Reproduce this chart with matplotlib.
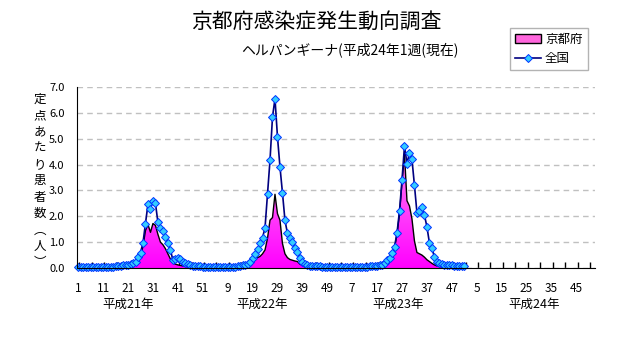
import numpy as np
import matplotlib.pyplot as plt
from matplotlib.colors import LinearSegmentedColormap
from matplotlib.patches import Patch
from matplotlib.lines import Line2D

plt.rcParams['font.family'] = ['Noto Sans CJK JP', 'DejaVu Sans']

# weekly values per sentinel, H21 week 1 .. H23 week 52
zenkoku_h21 = [0.05, 0.04, 0.04, 0.04, 0.03, 0.03, 0.03, 0.03, 0.03, 0.03, 0.04, 0.04, 0.04, 0.05, 0.05, 0.06, 0.07,
               0.08, 0.10, 0.12, 0.12, 0.14, 0.18, 0.25, 0.41, 0.59, 0.98,
               1.72, 2.47, 2.30, 2.60, 2.50, 1.76, 1.56, 1.44, 1.21, 0.98,
               0.70, 0.31, 0.35, 0.38, 0.33, 0.24, 0.18, 0.14, 0.10, 0.08,
               0.07, 0.06, 0.06, 0.05, 0.05]
zenkoku_h22 = [0.05, 0.05, 0.04, 0.04, 0.04, 0.04, 0.03, 0.03, 0.04, 0.04, 0.05, 0.05,
               0.06, 0.08, 0.10, 0.12, 0.17, 0.25, 0.37, 0.53, 0.72, 0.95,
               1.17, 1.56, 2.88, 4.17, 5.84, 6.55, 5.07, 3.91, 2.91, 1.85,
               1.34, 1.17, 1.00, 0.78, 0.60, 0.40, 0.25, 0.15, 0.10, 0.08,
               0.08, 0.07, 0.06, 0.06, 0.05, 0.05, 0.05, 0.04, 0.04, 0.04]
zenkoku_h23 = [0.04, 0.04, 0.04, 0.03, 0.03, 0.03, 0.03, 0.03, 0.04, 0.04, 0.04, 0.05, 0.05, 0.06, 0.07,
               0.08, 0.09, 0.10, 0.12, 0.18, 0.30, 0.37, 0.57, 0.82, 1.36,
               2.21, 3.40, 4.72, 4.04, 4.45, 4.20, 3.20, 2.14, 2.21, 2.34,
               2.05, 1.60, 0.98, 0.76, 0.44, 0.24, 0.18, 0.15, 0.13, 0.12,
               0.10, 0.10, 0.09, 0.08, 0.08, 0.07, 0.07]

kyoto_h21 = [0.02, 0.02, 0.01, 0.01, 0.01, 0.02, 0.01, 0.01, 0.01, 0.02, 0.02, 0.02, 0.03, 0.03, 0.03, 0.04, 0.04, 0.05,
             0.05, 0.06, 0.08, 0.10, 0.14, 0.18, 0.28, 0.42, 0.85, 1.45,
             1.68, 1.38, 1.72, 1.65, 1.30, 1.00, 0.90, 0.75, 0.55, 0.35,
             0.20, 0.15, 0.12, 0.10, 0.08, 0.06, 0.05, 0.04, 0.03, 0.03,
             0.03, 0.02, 0.02, 0.02]
kyoto_h22 = [0.02, 0.02, 0.01, 0.01, 0.01, 0.01, 0.01, 0.01, 0.02, 0.02, 0.02, 0.03, 0.04, 0.05,
             0.08, 0.12, 0.18, 0.22, 0.25, 0.30, 0.40, 0.45, 0.55, 0.70,
             1.15, 1.85, 1.95, 2.85, 2.10, 1.85, 0.95, 0.55, 0.40, 0.33,
             0.30, 0.27, 0.25, 0.15, 0.10, 0.08, 0.06, 0.05, 0.04, 0.03,
             0.03, 0.03, 0.02, 0.02, 0.02, 0.02, 0.02, 0.02]
kyoto_h23 = [0.02, 0.02, 0.01, 0.01, 0.01, 0.01, 0.01, 0.01, 0.02, 0.02, 0.02, 0.03, 0.03, 0.04, 0.04,
             0.05, 0.06, 0.08, 0.10, 0.15, 0.25, 0.35, 0.55, 0.80, 1.30,
             2.10, 3.30, 4.40, 2.60, 2.40, 1.90, 1.05, 0.60, 0.55, 0.50,
             0.42, 0.32, 0.25, 0.18, 0.12, 0.08, 0.06, 0.05, 0.04, 0.04,
             0.03, 0.03, 0.03, 0.02, 0.02, 0.02, 0.02]

week_labels = ['1', '11', '21', '31', '41', '51', '9', '19', '29', '39', '49',
               '7', '17', '27', '37', '47', '5', '15', '25', '35', '45']
year_labels = ['平成21年', '平成22年', '平成23年', '平成24年']
n_weeks = 4 * 52

zenkoku = np.array(zenkoku_h21 + zenkoku_h22 + zenkoku_h23)
kyoto = np.array(kyoto_h21 + kyoto_h22 + kyoto_h23)
x = np.arange(len(zenkoku))

fig = plt.figure(figsize=(6.32, 3.48), dpi=100)
ax = fig.add_axes([77 / 632, 1 - 268 / 348, 518 / 632, 181 / 348])

# magenta gradient area for Kyoto
fill = ax.fill_between(x, kyoto, 0, facecolor='none', edgecolor='none')
cmap = LinearSegmentedColormap.from_list('kpink', ['#ff00ff', '#ffccf0'])
grad = np.linspace(0, 1, 256).reshape(-1, 1)
im = ax.imshow(grad, cmap=cmap, aspect='auto', origin='lower',
               extent=[-0.5, n_weeks - 0.5, 0, 7], zorder=2)
im.set_clip_path(fill.get_paths()[0], transform=ax.transData)
ax.plot(x, kyoto, color='black', lw=1, zorder=3)

ax.plot(x, zenkoku, color='#000080', lw=1.2, marker='D', ms=3.8,
        mfc='#33ccff', mec='#0033ff', mew=0.7, zorder=4, clip_on=False)

ax.set_xlim(-0.5, n_weeks - 0.5)
ax.set_ylim(0, 7)
ax.set_yticks(np.arange(0, 8, 1))
ax.set_yticklabels(['%.1f' % v for v in np.arange(0, 8, 1)], fontsize=8)
ax.tick_params(axis='y', length=0, pad=9)
ax.set_xticks(np.arange(0, 201, 10))
ax.set_xticklabels(week_labels, fontsize=8.5)
ax.set_xticks(np.arange(0.5, n_weeks, 5), minor=True)
ax.tick_params(axis='x', which='major', length=0, pad=10)
ax.tick_params(axis='x', which='minor', direction='in', length=4, width=1)

ax.yaxis.grid(True, color='#c0c0c0', linestyle=(0, (4, 3)), lw=1)
ax.set_axisbelow(True)
for s in ['top', 'right']:
    ax.spines[s].set_visible(False)
for s in ['left', 'bottom']:
    ax.spines[s].set_color('black')
    ax.spines[s].set_zorder(5)

for pos, lab in zip([20, 74, 128.3, 183], year_labels):
    ax.text(pos, -36 / 181, lab, transform=ax.get_xaxis_transform(),
            ha='center', va='center', fontsize=9)

fig.text(40 / 632, 1 - 181 / 348, '\n'.join('定点あたり患者数︵人︶'),
         ha='center', va='center', fontsize=9, linespacing=1.33)

fig.text(316 / 632, 1 - 22 / 348, '京都府感染症発生動向調査', ha='center', va='center', fontsize=15)
fig.text(350 / 632, 1 - 50 / 348, 'ヘルパンギーナ(平成24年1週(現在)', ha='center', va='center', fontsize=10)

handles = [Patch(facecolor='#ff66dd', edgecolor='black', lw=1),
           Line2D([], [], color='#000080', lw=1.2, marker='D', ms=3.8,
                  mfc='#33ccff', mec='#0033ff', mew=0.7)]
leg = fig.legend(handles, ['京都府', '全国'], loc='upper left',
                 bbox_to_anchor=(510 / 632, 1 - 28 / 348), fontsize=9,
                 frameon=True, fancybox=False, handlelength=2.1,
                 handletextpad=0.3, borderpad=0.4, labelspacing=0.5,
                 borderaxespad=0)
leg.get_frame().set_edgecolor('#a0a0a0')
leg.get_frame().set_linewidth(1)

fig.savefig('out.png', dpi=100)
